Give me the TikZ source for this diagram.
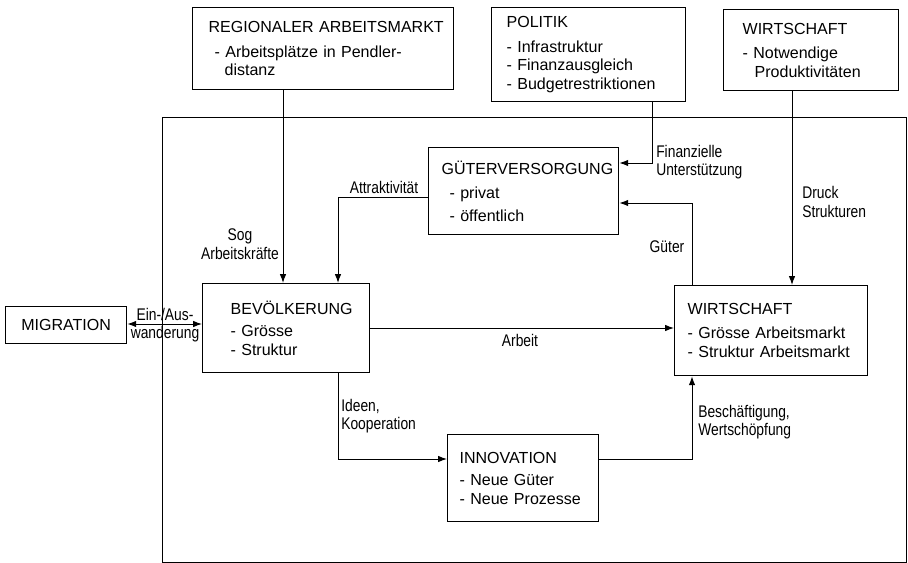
\documentclass[tikz,border=0pt]{standalone}
\usepackage{fontspec}
\setmainfont{Liberation Sans}
\newfontfamily\narrowsf[FakeStretch=0.82]{Liberation Sans}
\usetikzlibrary{arrows.meta,positioning,calc}

\begin{document}
\begin{tikzpicture}[
  x=0.025cm, y=-0.025cm,
  box/.style={rectangle, draw, line width=0.9pt, anchor=north west, align=left,
              inner ysep=0pt, font=\fontsize{11.4}{13.1}\selectfont},
  frame/.style={rectangle, draw, line width=0.9pt, anchor=north west, inner sep=0pt},
  arr/.style={line width=0.7pt, -{Latex[length=2.2mm,width=1.6mm]}},
  dblarr/.style={line width=0.7pt, {Latex[length=2.2mm,width=1.6mm]}-{Latex[length=2.2mm,width=1.6mm]}},
  lbl/.style={inner sep=0pt, font=\narrowsf\fontsize{12}{13.3}\selectfont},
]
\useasboundingbox (0,0) rectangle (908,563);
\node[frame, minimum width=18.6cm, minimum height=11.125cm] (umfeld) at (162,117) {};

\node[box, text width=5.725cm, inner xsep=0.4cm, minimum height=2.05cm] (reg) at (192,7)
  {\mbox{REGIONALER ARBEITSMARKT}\\[4.5pt]
   \hspace*{0.15cm}- Arbeitsplätze in Pendler-\\
   \hspace*{0.4cm}distanz};
\node[box, text width=4.1cm, inner xsep=0.375cm, minimum height=2.35cm] (pol) at (491,7)
  {POLITIK\\[4.5pt] - Infrastruktur\\ - Finanzausgleich\\ - Budgetrestriktionen};
\node[box, text width=3.425cm, inner xsep=0.475cm, minimum height=2.025cm] (wtop) at (723,9)
  {WIRTSCHAFT\\[4.5pt] - Notwendige\\ \hspace*{0.3cm}Produktivitäten};
\node[box, text width=4.1cm, inner xsep=0.325cm, minimum height=2.175cm] (gut) at (428,147)
  {GÜTERVERSORGUNG\\[4.5pt] \hspace*{0.2cm}- privat\\[3pt] \hspace*{0.2cm}- öffentlich};
\node[box, text width=2.775cm, inner xsep=0.7cm, minimum height=2.225cm] (bev) at (202,283)
  {BEVÖLKERUNG\\[3pt] - Grösse\\ - Struktur};
\node[box, text width=4.175cm, inner xsep=0.325cm, minimum height=2.25cm] (wirt) at (674,285)
  {WIRTSCHAFT\\[4pt] - Grösse Arbeitsmarkt\\ - Struktur Arbeitsmarkt};
\node[box, align=center, minimum width=3.025cm, minimum height=0.925cm] (mig) at (5,306)
  {MIGRATION};
\node[box, text width=3.175cm, inner xsep=0.3cm, minimum height=2.175cm] (inno) at (447,434)
  {INNOVATION\\[3pt] - Neue Güter\\ - Neue Prozesse};

\coordinate (xsog)   at (283,0);
\coordinate (xattr)  at (338,0);
\coordinate (xpol)   at (652,0);
\coordinate (xgut)   at (692,0);
\coordinate (xdruck) at (792,0);
\coordinate (yfin)   at (0,163);
\coordinate (yattr)  at (0,197);
\coordinate (ygut)   at (0,203);
\coordinate (ymig)   at (0,324);
\coordinate (yarb)   at (0,328);
\coordinate (yinno)  at (0,459);

\draw[arr] (reg.south -| xsog) -- (bev.north -| xsog);
\draw[arr] (pol.south -| xpol) |- (gut.east |- yfin);
\draw[arr] (gut.west |- yattr) -| (bev.north -| xattr);
\draw[arr] (wirt.north -| xgut) |- (gut.east |- ygut);
\draw[arr] (wtop.south -| xdruck) -- (wirt.north -| xdruck);
\draw[dblarr] (mig.east |- ymig) -- (bev.west |- ymig);
\draw[arr] (bev.east |- yarb) -- (wirt.west |- yarb);
\draw[arr] (bev.south -| xattr) |- (inno.west |- yinno);
\draw[arr] (inno.east |- yinno) -| (wirt.south -| xgut);

\node[lbl, align=center]            (sog)    at (240,244) {Sog\\Arbeitskräfte};
\node[lbl, align=left, anchor=west] (fin)    at (656,162) {Finanzielle\\Unterstützung};
\node[lbl]                          (attr)   at (384,187) {Attraktivität};
\node[lbl]                          (gueter) at (667,247) {Güter};
\node[lbl, align=left, anchor=west] (druck)  at (802,202) {Druck\\Strukturen};
\node[lbl, align=center]            (einaus) at (165,325) {Ein-/Aus-\\wanderung};
\node[lbl]                          (arbeit) at (520,340) {Arbeit};
\node[lbl, align=left, anchor=west] (ideen)  at (341,416) {Ideen,\\Kooperation};
\node[lbl, align=left, anchor=west] (besch)  at (698,422) {Beschäftigung,\\Wertschöpfung};
\end{tikzpicture}
\end{document}
